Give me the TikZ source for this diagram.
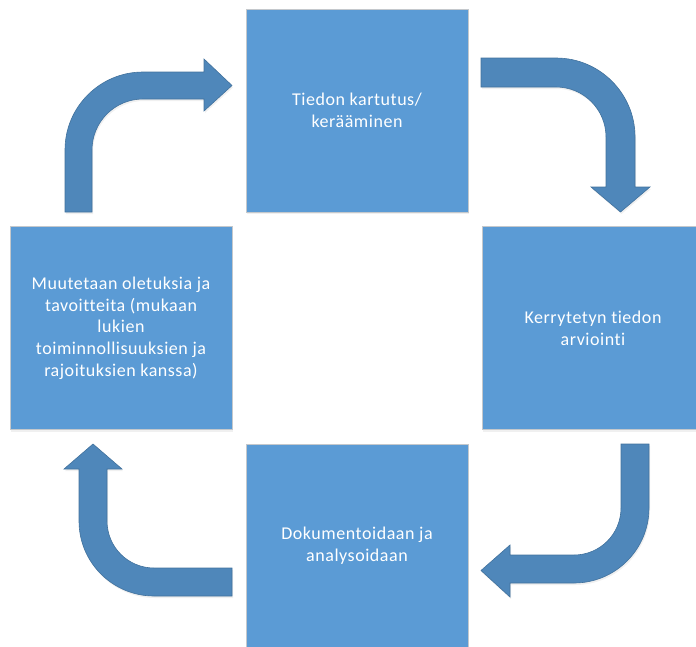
\documentclass[tikz,border=0pt]{standalone}
\usepackage{fontspec}
\setmainfont{Carlito}[RawFeature={-liga;-dlig;-clig}]
\usetikzlibrary{shadows}
\definecolor{boxblue}{HTML}{5B9BD5}
\definecolor{boxline}{HTML}{C4C8CC}
\definecolor{arrowblue}{HTML}{4F87BA}
\definecolor{arrowline}{HTML}{41719C}
\begin{document}
\begin{tikzpicture}[x=1pt,y=-1pt,
  stepbox/.style={draw=boxline, line width=0.8pt, fill=boxblue, minimum width=222pt, minimum height=203pt,
    inner sep=0pt, text=white, align=center,
    font=\addfontfeatures{LetterSpace=3}\fontsize{18}{21.7}\selectfont,
    drop shadow={opacity=0.12, shadow xshift=1pt, shadow yshift=-2pt}},
  bentarrow/.style={fill=arrowblue, draw=arrowline, line width=0.6pt, line join=miter,
    drop shadow={opacity=0.12, shadow xshift=1pt, shadow yshift=-2pt}}]
\useasboundingbox (0,0) rectangle (696,646);
\begin{scope}
\clip (0,0) rectangle (696,646);
\node[stepbox] (top) at (357,110.5) {Tiedon kartutus/\\kerääminen};
\node[stepbox] (right) at (593,328) {Kerrytetyn tiedon\\arviointi};
\node[stepbox] (bottom) at (357,545.5) {Dokumentoidaan ja\\analysoidaan};
\node[stepbox] (left) at (121,328) {Muutetaan oletuksia ja\\tavoitteita (mukaan\\lukien\\toiminnollisuuksien ja\\rajoituksien kanssa)};
\end{scope}
% top-left bent arrow
\draw[bentarrow] (65,212) -- (65,150) arc[start angle=180,end angle=270,radius=78]
  -- (204,72) -- (204,59) -- (232,85.5) -- (204,111) -- (204,99) -- (143,99)
  arc[start angle=270,end angle=180,radius=51] -- (92,212) -- cycle;
% top-right bent arrow
\draw[bentarrow] (481,58) -- (556,58) arc[start angle=270,end angle=360,radius=79]
  -- (635,187) -- (650,187) -- (620.5,212) -- (591,187) -- (606,187) -- (606,137)
  arc[start angle=0,end angle=-90,radius=50] -- (481,87) -- cycle;
% bottom-right bent arrow
\draw[bentarrow] (621,444) -- (649,444) -- (649,508) arc[start angle=0,end angle=90,radius=75]
  -- (510,583) -- (510,597) -- (481,570.5) -- (510,545) -- (510,555) -- (574,555)
  arc[start angle=90,end angle=0,radius=47] -- cycle;
% bottom-left bent arrow
\draw[bentarrow] (232,568) -- (232,596) -- (154,596) arc[start angle=90,end angle=180,radius=75]
  -- (79,469) -- (64,469) -- (93,444) -- (122,469) -- (107,469) -- (107,521)
  arc[start angle=180,end angle=90,radius=47] -- cycle;
\end{tikzpicture}
\end{document}
